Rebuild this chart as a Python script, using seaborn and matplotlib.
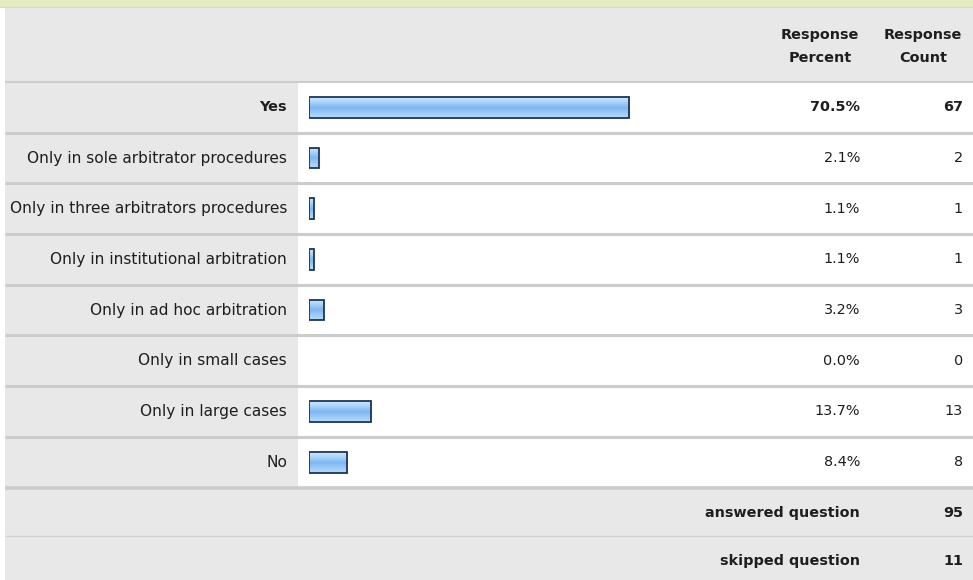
import matplotlib
matplotlib.use("Agg")
import matplotlib.pyplot as plt
import matplotlib.transforms as mtransforms
import numpy as np
import pandas as pd
import seaborn as sns
from matplotlib.patches import Rectangle
from matplotlib.colors import LinearSegmentedColormap

answers = [
    "Yes",
    "Only in sole arbitrator procedures",
    "Only in three arbitrators procedures",
    "Only in institutional arbitration",
    "Only in ad hoc arbitration",
    "Only in small cases",
    "Only in large cases",
    "No",
]
percents = [70.5, 2.1, 1.1, 1.1, 3.2, 0.0, 13.7, 8.4]
counts = [67, 2, 1, 1, 3, 0, 13, 8]
answered = 95
skipped = 11

W, H = 973, 580
GRAY = "#e8e8e8"
LINE = "#cccccc"
TXT = "#1e1e1e"

sns.set_style("white")
plt.rcParams["font.family"] = ["DejaVu Sans"]

fig = plt.figure(figsize=(W / 100, H / 100), dpi=100)
fig.patch.set_facecolor("white")

# background axes in pixel coordinates
bg = fig.add_axes([0, 0, 1, 1])
bg.set_xlim(0, W)
bg.set_ylim(H, 0)
bg.axis("off")

row_top, row_bot = 82, 487.5
bar_x0, bar_w = 309, 454

bg.add_patch(Rectangle((0, 0), W, 7, color="#e6ecc2", lw=0))
bg.plot([0, W], [7, 7], color="#d8dfae", lw=0.8)
bg.add_patch(Rectangle((5, 7), W - 5, row_top - 7, color=GRAY, lw=0))
bg.add_patch(Rectangle((5, row_top), 298 - 5, row_bot - row_top, color=GRAY, lw=0))
bg.add_patch(Rectangle((5, row_bot), W - 5, H - row_bot, color=GRAY, lw=0))

# bar axes covering the answer rows
ax = fig.add_axes([bar_x0 / W, 1 - row_bot / H, bar_w / W, (row_bot - row_top) / H])
df = pd.DataFrame({"answer": answers, "percent": percents})
sns.barplot(df, x="percent", y="answer", orient="h", width=0.41, color="#8fc1f3",
            edgecolor="#1d3557", linewidth=1.3, ax=ax)
ax.set_xlim(0, 100)
ax.set_ylim(len(answers) - 0.5, -0.5)
ax.axis("off")
ax.patch.set_alpha(0)

cmap = LinearSegmentedColormap.from_list(
    "bar", ["#cfe6fd", "#a9d2fa", "#7fb6f0", "#9ccaf7", "#b7dafb"])
grad = np.linspace(0, 1, 64).reshape(-1, 1)
for p, v in zip(ax.patches, percents):
    if v == 0:
        p.set_visible(False)
        continue
    x0, y0, w, h = p.get_x(), p.get_y(), p.get_width(), p.get_height()
    im = ax.imshow(grad, cmap=cmap, aspect="auto", extent=(x0, x0 + w, y0 + h, y0),
                   zorder=p.get_zorder() - 0.1, interpolation="bilinear")
    im.set_clip_path(p)
    p.set_facecolor("none")
    p.set_zorder(p.get_zorder() + 0.2)

tr = mtransforms.blended_transform_factory(bg.transData, ax.transData)

# row separators
for i in range(len(answers) - 1):
    bg.plot([5, W], [i + 0.5, i + 0.5], color=LINE, lw=2.2, transform=tr, solid_capstyle="butt")
bg.plot([5, W], [row_top, row_top], color=LINE, lw=1.5, solid_capstyle="butt")
bg.plot([5, W], [row_bot, row_bot], color=LINE, lw=2.6, solid_capstyle="butt")
bg.plot([5, W], [535.5, 535.5], color="#d2d2d2", lw=1.0, solid_capstyle="butt")

fs = 10.4
label_fs = 11.1
for i, (a, pc, c) in enumerate(zip(answers, percents, counts)):
    weight = "bold" if i == 0 else "normal"
    bg.text(287, i, a, transform=tr, ha="right", va="center",
            fontsize=fs if i == 0 else label_fs, fontweight=weight, color=TXT)
    bg.text(860, i, f"{pc:.1f}%", transform=tr, ha="right", va="center", fontsize=fs,
            fontweight=weight, color=TXT)
    bg.text(963, i, f"{c}", transform=tr, ha="right", va="center", fontsize=fs,
            fontweight=weight, color=TXT)

# header
for x, lines in [(820, ["Response", "Percent"]), (923, ["Response", "Count"])]:
    bg.text(x, 35, lines[0], ha="center", va="center", fontsize=fs, fontweight="bold", color=TXT)
    bg.text(x, 58, lines[1], ha="center", va="center", fontsize=fs, fontweight="bold", color=TXT)

# footer
bg.text(860, 513, "answered question", ha="right", va="center", fontsize=fs, fontweight="bold", color=TXT)
bg.text(963, 513, f"{answered}", ha="right", va="center", fontsize=fs, fontweight="bold", color=TXT)
bg.text(860, 561, "skipped question", ha="right", va="center", fontsize=fs, fontweight="bold", color=TXT)
bg.text(963, 561, f"{skipped}", ha="right", va="center", fontsize=fs, fontweight="bold", color=TXT)

fig.savefig("out.png", dpi=100)
plt.close(fig)
